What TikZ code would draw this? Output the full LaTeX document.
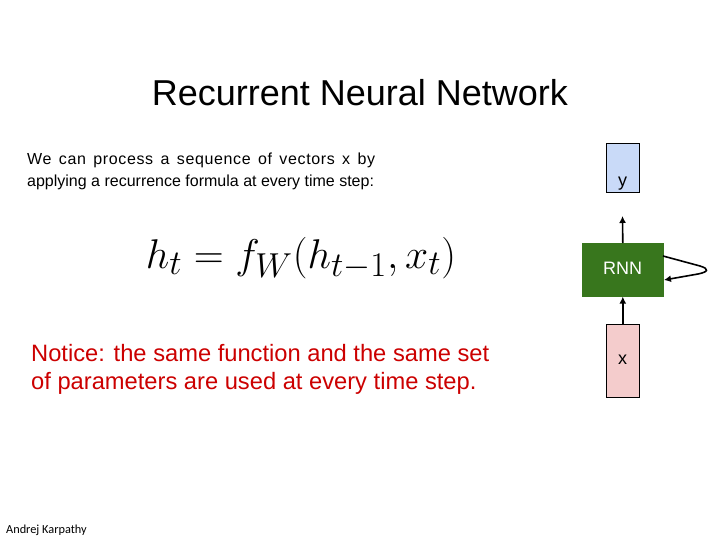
\documentclass[tikz,border=0pt]{standalone}
\usepackage{graphicx}
\usepackage{fontspec}
\setmainfont{Liberation Sans}
\newfontfamily\calib{Carlito}
\newfontfamily\widesans[LetterSpace=4]{Liberation Sans}
\usetikzlibrary{arrows.meta}
\definecolor{yblue}{HTML}{C9DAF8}
\definecolor{rnngreen}{HTML}{38761D}
\definecolor{xpink}{HTML}{F4CCCC}
\definecolor{notered}{HTML}{CC0000}
\begin{document}
\begin{tikzpicture}[x=1pt,y=-1pt,
  box/.style={draw=black,line width=0.6pt,inner sep=0pt,anchor=north west},
  conn/.style={line width=1.6pt,-{Latex[length=7pt,width=7pt]}},
  txt/.style={inner sep=0pt,anchor=base west,align=left}]
\useasboundingbox[fill=white] (0,0) rectangle (720,540);
\node[inner sep=0pt,anchor=base] (title) at (360,106) {\fontsize{36}{40}\selectfont Recurrent Neural Network};
\node[txt] (l1) at (27,165) {\widesans\fontsize{16}{22}\selectfont\makebox[348pt][s]{We can process a sequence of vectors x by}};
\node[txt] (l2) at (27,187) {\fontsize{16}{22}\selectfont applying a recurrence formula at every time\ step:};
\node[inner sep=0pt,anchor=base] (eq) at (301,268) {\scalebox{1.67}{\Huge $h_t = f_W(h_{t-1}, x_t)$}};
\node[txt,text=notered] (n1) at (31,361) {\fontsize{23.7}{28}\selectfont Notice: the same function and the same set};
\node[txt,text=notered] (n2) at (31,389) {\fontsize{23.7}{28}\selectfont of parameters are used at every time step.};
\node[txt] (auth) at (6,533) {\calib\fontsize{12.3}{14}\selectfont Andrej Karpathy};
\node[box,fill=yblue,minimum width=33pt,minimum height=49pt] (y) at (606,143) {};
\node[anchor=base,inner sep=0pt] (ylab) at (622.5,187) {\fontsize{18}{20}\selectfont y};
\node[box,fill=rnngreen,minimum width=81pt,minimum height=53pt,draw=rnngreen] (rnn) at (582,243) {};
\node[anchor=center,inner sep=0pt,text=white] (rnnlab) at (622.5,268) {\fontsize{18}{20}\selectfont RNN};
\node[box,fill=xpink,minimum width=33pt,minimum height=73pt] (x) at (606,324) {};
\node[anchor=center,inner sep=0pt] (xlab) at (622.5,360) {\fontsize{18}{20}\selectfont x};
\coordinate (ytip) at (622.5,216);
\draw[conn] (rnn.north) -- (ytip);
\draw[conn] (x.north) -- (rnn.south);
\coordinate (loopA) at (663,256);
\coordinate (loopB) at (664,280);
\draw[conn] (loopA) -- (700,266) .. controls (710,269) and (708,272) .. (698,274) -- (loopB);
\end{tikzpicture}
\end{document}
